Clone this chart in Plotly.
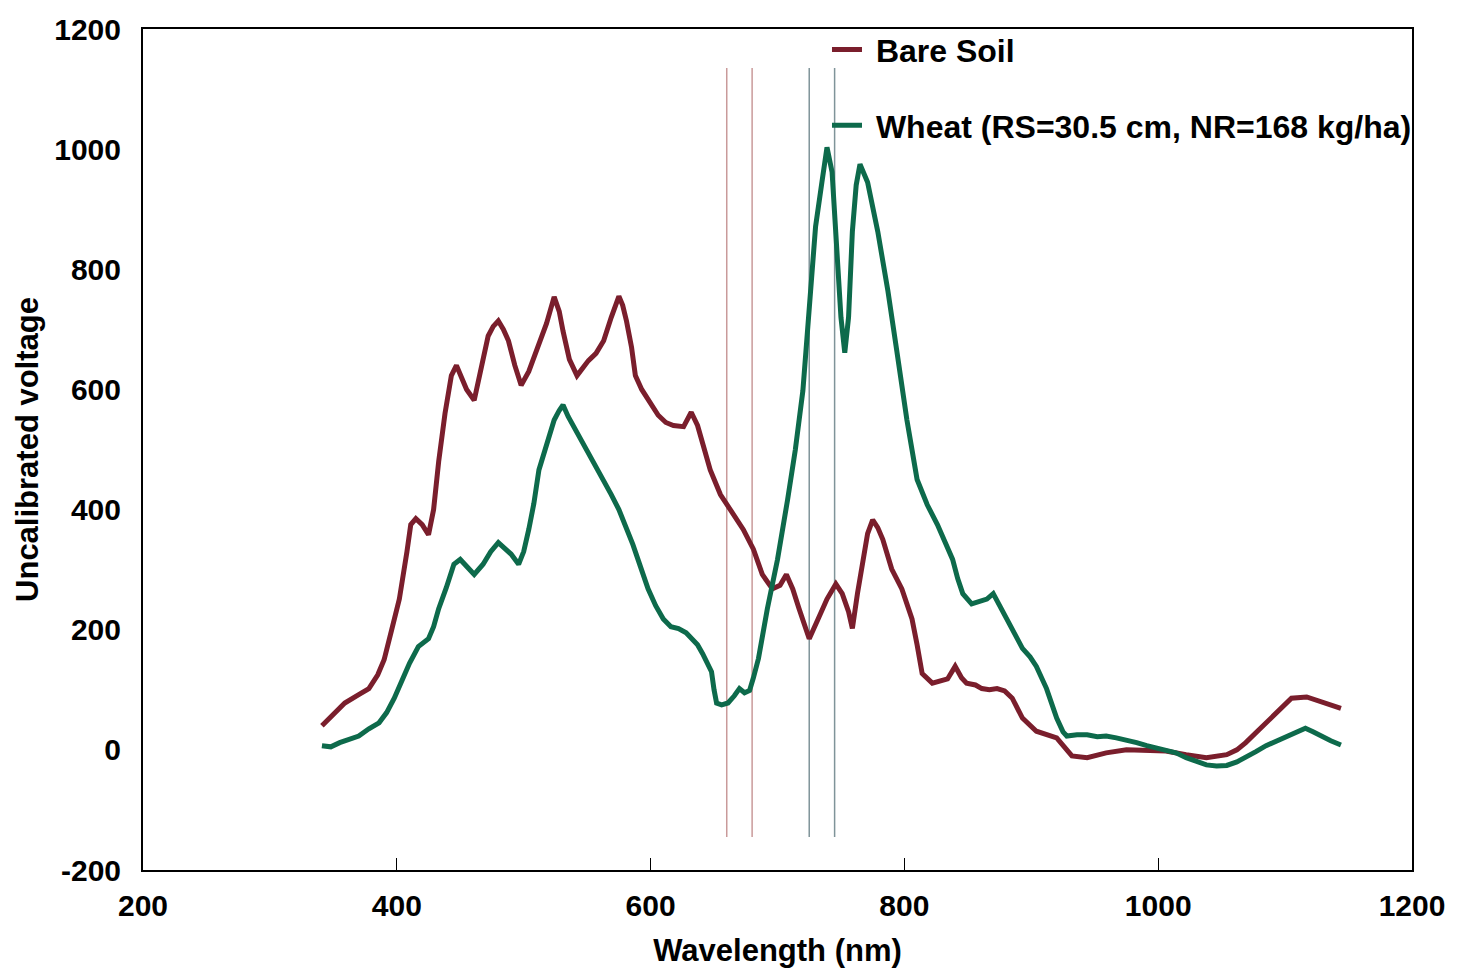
import plotly.graph_objects as go

# ---- data ----
soil_wl = [341, 350, 359, 370, 378, 385, 390, 396, 402, 408, 411, 415, 420, 425, 429, 433, 438, 443, 447, 451,
           455, 461, 466, 472, 476, 480, 484, 488, 493, 498, 504, 512, 518, 524, 528, 531, 536, 542, 546, 551,
           557, 563, 569, 575, 578, 581, 585, 588, 593, 598, 606, 612, 618, 626, 632, 637, 642, 647, 655, 665,
           673, 681, 688, 696, 702, 707, 712, 717, 722, 725, 732, 739, 746, 751, 756, 759, 763, 767, 771, 775,
           779, 783, 790, 798, 806, 810, 814, 822, 830, 834, 840, 845, 849, 856, 861, 867, 873, 879, 885, 893,
           904, 912, 920, 926, 932, 944, 959, 975, 991, 1006, 1022, 1038, 1054, 1062, 1069, 1081, 1093, 1105,
           1117, 1128, 1137, 1144]
soil_v = [40, 58, 78, 92, 102, 125, 150, 200, 251, 330, 375, 385, 375, 358, 400, 480, 560, 623, 640, 620,
          600, 582, 630, 689, 705, 714, 700, 681, 640, 607, 630, 673, 710, 754, 730, 697, 650, 623, 635, 648,
          660, 681, 720, 755, 740, 714, 670, 623, 600, 582, 557, 545, 540, 538, 562, 540, 505, 466, 425, 392,
          367, 334, 292, 268, 274, 292, 268, 235, 200, 185, 218, 251, 276, 260, 230, 202, 260, 317, 360, 383,
          370, 350, 301, 268, 218, 175, 127, 111, 115, 118, 139, 120, 111, 108, 102, 100, 102, 98, 86, 53,
          31, 25, 20, 5, -10, -13, -5, 0, 0, -2, -8, -13, -8, 0, 12, 36, 61, 86,
          88, 81, 75, 69]

wheat_wl = [341, 348, 355, 362, 370, 378, 386, 392, 398, 404, 410, 417, 425, 429, 433, 439, 445, 450, 455, 461,
            468, 474, 480, 485, 490, 496, 500, 504, 508, 512, 518, 524, 528, 531, 535, 539, 545, 551, 557, 563,
            569, 575, 581, 586, 592, 598, 604, 610, 616, 622, 628, 633, 637, 641, 645, 648, 650, 652, 656, 661,
            666, 670, 674, 678, 681, 685, 692, 700, 708, 714, 720, 725, 730, 735, 739, 743, 747, 750, 753, 756,
            759, 762, 765, 771, 779, 787, 794, 802, 810, 818, 826, 832, 838, 842, 846, 853, 860, 865, 870, 875,
            881, 887, 893, 899, 904, 912, 916, 920, 925, 928, 936, 944, 952, 959, 967, 975, 983, 991, 1006, 1014,
            1022, 1030, 1038, 1046, 1054, 1062, 1069, 1077, 1085, 1093, 1101, 1108, 1116, 1122, 1128, 1136, 1144]
wheat_v = [7, 5, 12, 18, 23, 35, 45, 62, 86, 115, 144, 172, 185, 205, 235, 270, 309, 317, 305, 292,
           309, 330, 345, 335, 326, 309, 330, 367, 410, 466, 510, 549, 565, 574, 555, 540, 515, 491, 470, 450,
           425, 400, 370, 342, 305, 268, 240, 218, 205, 202, 195, 185, 175, 160, 145, 130, 100, 78, 75, 78,
           90, 102, 95, 99, 120, 152, 235, 317, 417, 499, 598, 731, 871, 945, 1003, 962, 813, 720, 661, 720,
           863, 940, 975, 945, 863, 764, 664, 549, 450, 408, 375, 345, 317, 285, 260, 243, 248, 251, 260, 240,
           218, 195, 169, 155, 139, 102, 75, 53, 30, 23, 25, 25, 22, 23, 20, 17, 12, 7, 0, -5,
           -13, -20, -25, -27, -26, -20, -13, -3, 7, 15, 23, 30, 36, 30, 23, 15, 8]

band_lines_wl = [660, 680, 725, 745]
band_lines_range = [-145, 1135]
band_colors = ["#c99a9a", "#c99a9a", "#7f9499", "#7f9499"]

series_names = ["Bare Soil", "Wheat (RS=30.5 cm, NR=168 kg/ha)"]
series_colors = ["#7a1e2c", "#0d6a4b"]

x_ticks = [200, 400, 600, 800, 1000, 1200]
y_ticks = [-200, 0, 200, 400, 600, 800, 1000, 1200]
y_tick_text = ["-200", "0", "200", "400", "600", "800", "1000", "1200"]

FONT = "Liberation Sans, Arial, sans-serif"

fig = go.Figure()

for wl, col in zip(band_lines_wl, band_colors):
    fig.add_trace(go.Scatter(x=[wl, wl], y=band_lines_range, mode="lines",
                             line=dict(color=col, width=1.5), showlegend=False, hoverinfo="skip"))

fig.add_trace(go.Scatter(x=soil_wl, y=soil_v, mode="lines", name=" " + series_names[0],
                         legendgroup="a", line=dict(color=series_colors[0], width=5)))
fig.add_trace(go.Scatter(x=wheat_wl, y=wheat_v, mode="lines", name=" " + series_names[1],
                         legendgroup="b", line=dict(color=series_colors[1], width=5)))

fig.update_layout(
    width=1457, height=974,
    margin=dict(l=143, r=41, t=27, b=101),
    paper_bgcolor="white", plot_bgcolor="white",
    font=dict(family=FONT, color="black"),
    legend=dict(x=0.539, y=1.008, xanchor="left", yanchor="top",
                bgcolor="rgba(0,0,0,0)", traceorder="grouped", tracegroupgap=31,
                font=dict(size=32, family=FONT, weight="bold", color="black")),
    xaxis=dict(range=[200, 1200], tickvals=x_ticks, ticks="inside", ticklen=12, tickwidth=1,
               tickcolor="black", showgrid=False, zeroline=False, showline=True, mirror=True,
               linecolor="black", linewidth=2, ticklabelstandoff=8,
               tickfont=dict(size=30, family=FONT, weight="bold"),
               title=dict(text="Wavelength (nm)", standoff=18,
                          font=dict(size=31, family=FONT, weight="bold"))),
    yaxis=dict(range=[-200, 1200], tickvals=y_ticks, ticktext=y_tick_text, ticks="",
               showgrid=False, zeroline=False,
               showline=True, mirror=True, linecolor="black", linewidth=2, ticklabelstandoff=14,
               tickfont=dict(size=30, family=FONT, weight="bold"),
               title=dict(text="Uncalibrated voltage", standoff=6,
                          font=dict(size=31, family=FONT, weight="bold"))),
)

fig.write_html("out.html")
